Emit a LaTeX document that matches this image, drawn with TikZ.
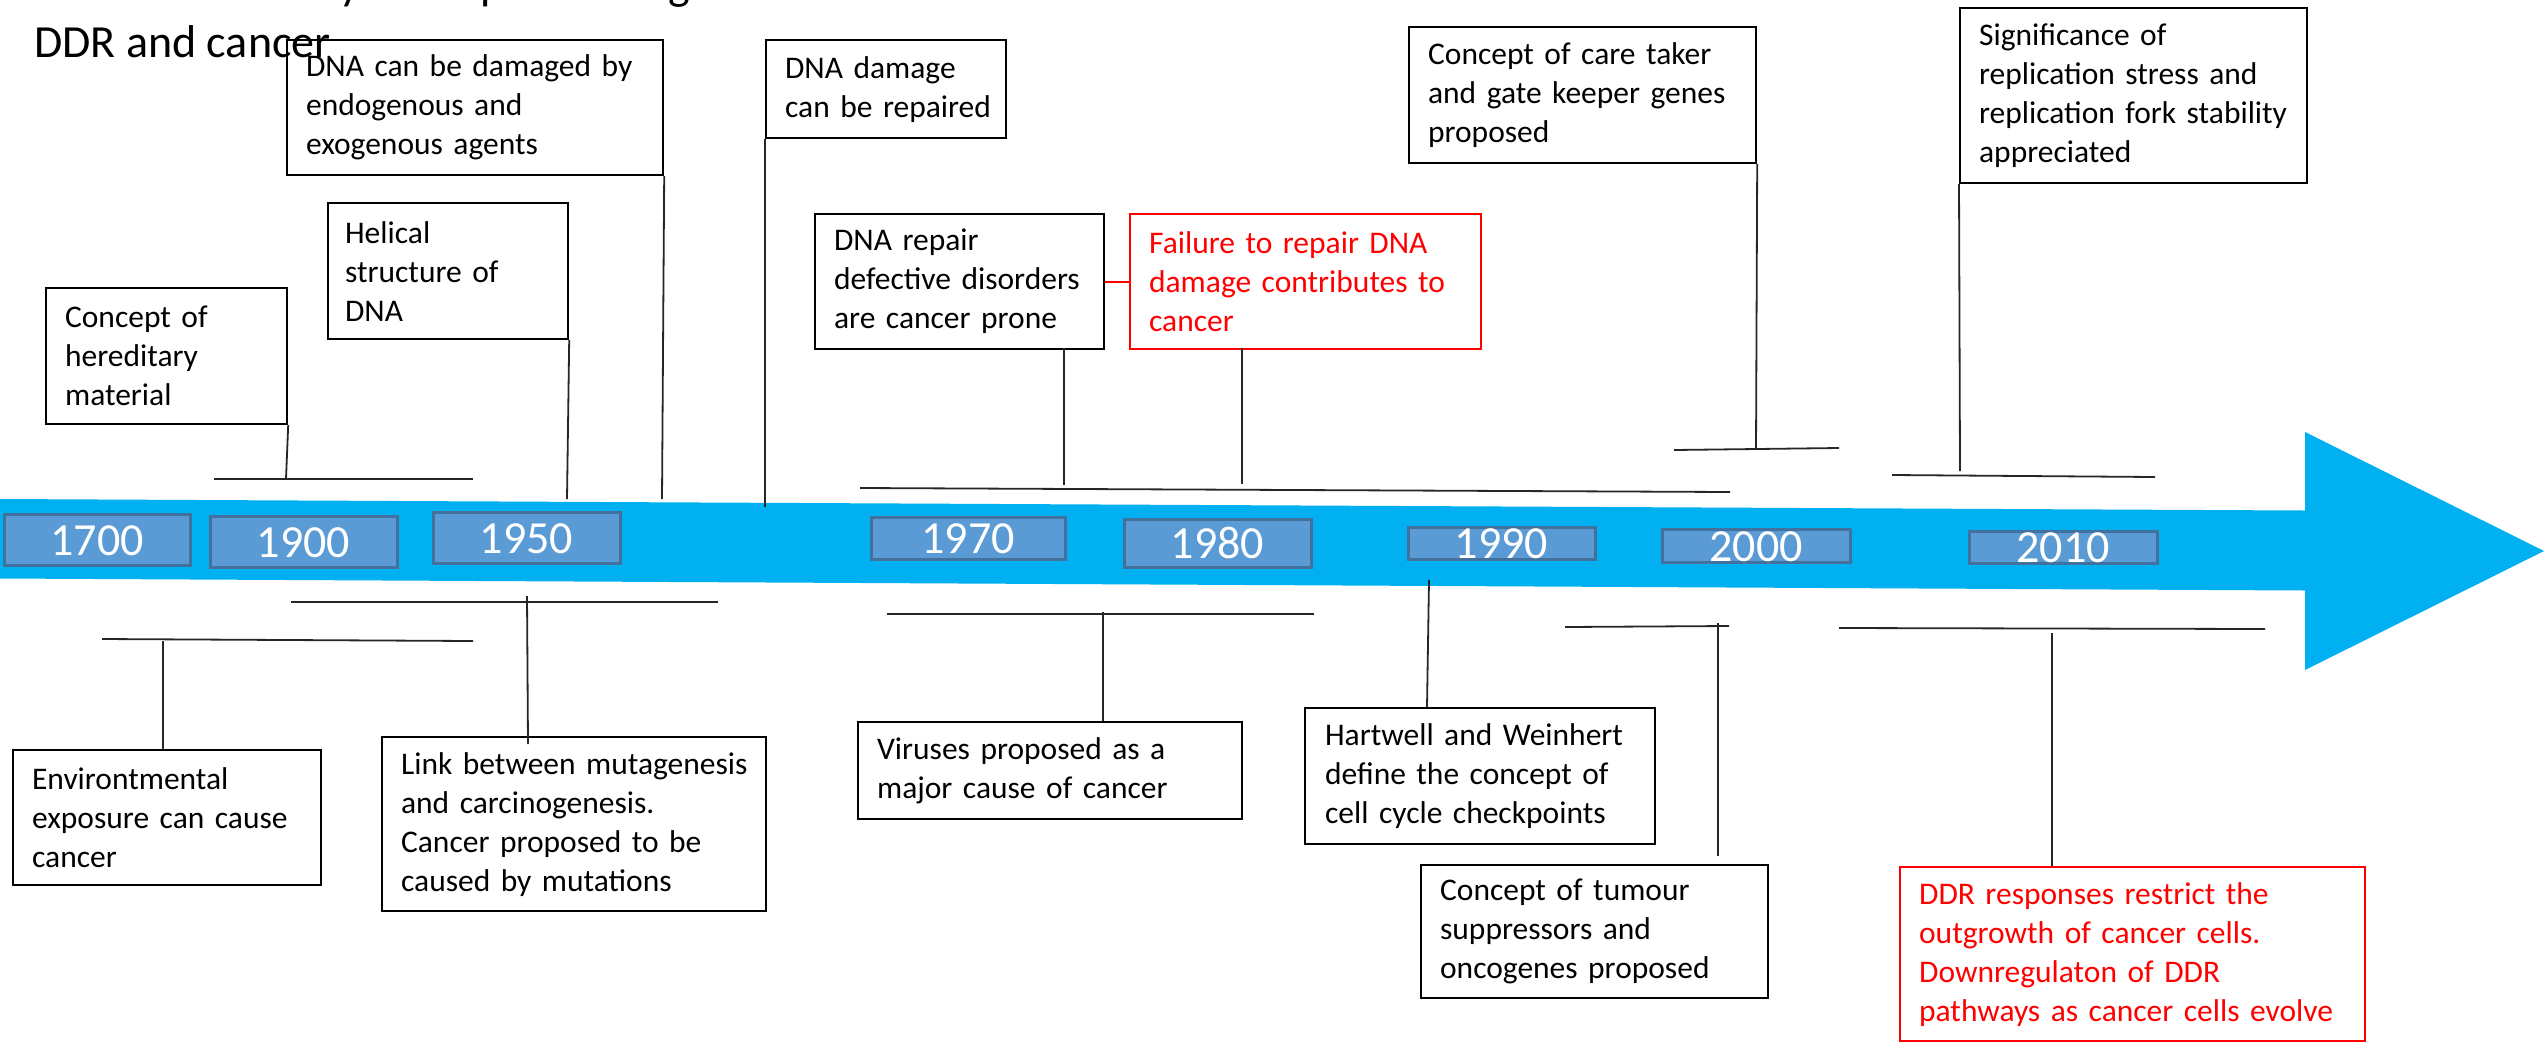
\documentclass[tikz,border=0pt]{standalone}
\usepackage{fontspec}
\setmainfont{Carlito}
\definecolor{arrowblue}{HTML}{00B0F0}
\definecolor{yearfill}{HTML}{5B9BD5}
\definecolor{yeardraw}{HTML}{41719C}
\definecolor{evred}{HTML}{FF0000}
\newcommand{\evl}[1]{\mbox{#1}}
\tikzset{
  evbox/.style={draw=black, line width=2.2pt, anchor=north west, align=left,
    inner xsep=19pt, inner ysep=0pt, font=\fontsize{31.5}{39}\selectfont, text=black},
  redbox/.style={evbox, draw=evred, text=evred},
  yearbox/.style={draw=yeardraw, fill=yearfill, line width=3pt, text=white,
    font=\fontsize{46}{50}\selectfont, inner sep=0pt, text height=31pt, text depth=0pt},
  link/.style={line width=1.8pt, draw=black!85},
  redlink/.style={line width=1.8pt, draw=evred},
  titletext/.style={anchor=base west, inner sep=0pt, font=\fontsize{46}{55}\selectfont}
}
\begin{document}
\begin{tikzpicture}[x=1pt,y=-1pt]
\useasboundingbox (0,0) rectangle (2547,1045);
% timeline arrow
\fill[arrowblue] (0,499) -- (2305,510.5) -- (2305,432) -- (2544,551) -- (2305,670) -- (2305,590.5) -- (0,578.5) -- cycle;
% year boxes
\node[yearbox, minimum width=186pt, minimum height=51pt] (y1700) at (97,539.5) {1700};
\node[yearbox, minimum width=187pt, minimum height=51pt] (y1900) at (303.5,541.5) {1900};
\node[yearbox, minimum width=187pt, minimum height=51pt] (y1950) at (526.5,537.5) {1950};
\node[yearbox, minimum width=194pt, minimum height=42pt] (y1970) at (968,538) {1970};
\node[yearbox, minimum width=187pt, minimum height=48pt] (y1980) at (1217.5,543) {1980};
\node[yearbox, minimum width=187pt, minimum height=32pt] (y1990) at (1501.5,543) {1990};
\node[yearbox, minimum width=188pt, minimum height=33pt] (y2000) at (1756,545.5) {2000};
\node[yearbox, minimum width=188pt, minimum height=32pt] (y2010) at (2063,547) {2010};
% event boxes above
\node[evbox, text width=203pt, minimum height=136pt] (A) at (45,287) {\evl{Concept of}\\\evl{hereditary}\\\evl{material}};
\node[evbox, minimum height=136pt, inner xsep=17pt, text width=206pt] (B) at (327,202) {\evl{Helical}\\\evl{structure of}\\\evl{DNA}};
\node[evbox, text width=338pt, minimum height=135pt] (C) at (286,39) {\evl{DNA can be damaged by}\\\evl{endogenous and}\\\evl{exogenous agents}};
\node[evbox, text width=202pt, minimum height=98pt] (D) at (765,39) {\evl{DNA damage}\\\evl{can be repaired}};
\node[evbox, text width=251pt, minimum height=135pt] (E) at (814,213) {\evl{DNA repair}\\\evl{defective disorders}\\\evl{are cancer prone}};
\node[redbox, text width=313pt, minimum height=135pt] (F) at (1129,213) {\evl{Failure to repair DNA}\\\evl{damage contributes to}\\\evl{cancer}};
\node[evbox, text width=309pt, minimum height=136pt] (G) at (1408,26) {\evl{Concept of care taker}\\\evl{and gate keeper genes}\\\evl{proposed}};
\node[evbox, text width=309pt, minimum height=175pt] (H) at (1959,7) {\evl{Significance of}\\\evl{replication stress and}\\\evl{replication fork stability}\\\evl{appreciated}};
% event boxes below
\node[evbox, text width=270pt, minimum height=135pt] (I) at (12,749) {\evl{Environtmental}\\\evl{exposure can cause}\\\evl{cancer}};
\node[evbox, text width=346pt, minimum height=174pt] (J) at (381,736) {\evl{Link between mutagenesis}\\\evl{and carcinogenesis.}\\\evl{Cancer proposed to be}\\\evl{caused by mutations}};
\node[evbox, text width=346pt, minimum height=97pt] (K) at (857,721) {\evl{Viruses proposed as a}\\\evl{major cause of cancer}};
\node[evbox, text width=310pt, minimum height=136pt, inner xsep=20pt] (L) at (1304,707) {\evl{Hartwell and Weinhert}\\\evl{define the concept of}\\\evl{cell cycle checkpoints}};
\node[evbox, text width=309pt, minimum height=133pt] (M) at (1420,864) {\evl{Concept of tumour}\\\evl{suppressors and}\\\evl{oncogenes proposed}};
\node[redbox, text width=427pt, minimum height=174pt] (N) at (1899,866) {\evl{DDR responses restrict the}\\\evl{outgrowth of cancer cells.}\\\evl{Downregulaton of DDR}\\\evl{pathways as cancer cells evolve}};
% connector coordinates
\coordinate (a1) at (286,479);
\coordinate (ha1) at (214,479);
\coordinate (ha2) at (473,479);
\coordinate (b1) at (567,499);
\coordinate (c1) at (662,499);
\coordinate (d1) at (765,507);
\coordinate (e0) at (1064,348);
\coordinate (e1) at (1064,485);
\coordinate (f0) at (1242,348);
\coordinate (f1) at (1242,484);
\coordinate (he1) at (860,488);
\coordinate (he2) at (1730,492);
\coordinate (g1) at (1756,449);
\coordinate (hg1) at (1674,450);
\coordinate (hg2) at (1839,448);
\coordinate (h1) at (1960,471);
\coordinate (hh1) at (1892,475);
\coordinate (hh2) at (2155,477);
\coordinate (hi1) at (102,639);
\coordinate (hi2) at (473,641);
\coordinate (i1) at (163,641);
\coordinate (hj1) at (291,602);
\coordinate (hj2) at (718,602);
\coordinate (j1) at (527,596);
\coordinate (j2) at (528,744);
\coordinate (hk1) at (887,614);
\coordinate (hk2) at (1314,614);
\coordinate (k1) at (1103,612);
\coordinate (l1) at (1429,580);
\coordinate (l2) at (1427,707);
\coordinate (hm1) at (1565,627);
\coordinate (hm2) at (1729,626);
\coordinate (m1) at (1718,623);
\coordinate (m2) at (1718,856);
\coordinate (hn1) at (1839,628);
\coordinate (hn2) at (2265,629);
\coordinate (n1) at (2052,633);
% connectors above
\draw[link] (A.south east) -- (a1);
\draw[link] (ha1) -- (ha2);
\draw[link] (B.south east) -- (b1);
\draw[link] (C.south east) -- (c1);
\draw[link] (D.south west) -- (d1);
\draw[link] (e0) -- (e1);
\draw[link] (f0) -- (f1);
\draw[link] (he1) -- (he2);
\draw[redlink] (E.east) -- (F.west);
\draw[link] (G.south east) -- (g1);
\draw[link] (hg1) -- (hg2);
\draw[link] (H.south west) -- (h1);
\draw[link] (hh1) -- (hh2);
% connectors below
\draw[link] (hi1) -- (hi2);
\draw[link] (i1) -- (i1 |- I.north);
\draw[link] (hj1) -- (hj2);
\draw[link] (j1) -- (j2);
\draw[link] (hk1) -- (hk2);
\draw[link] (k1) -- (k1 |- K.north);
\draw[link] (l1) -- (l2);
\draw[link] (hm1) -- (hm2);
\draw[link] (m1) -- (m2);
\draw[link] (hn1) -- (hn2);
\draw[link] (n1) -- (n1 |- N.north);
% title
\begin{scope}
\clip (0,0) rectangle (2547,1045);
\node[titletext] (title1) at (48,-1) {A timeline of key concepts relating};
\end{scope}
\node[titletext] (title2) at (34,57) {DDR and cancer};
\end{tikzpicture}
\end{document}
